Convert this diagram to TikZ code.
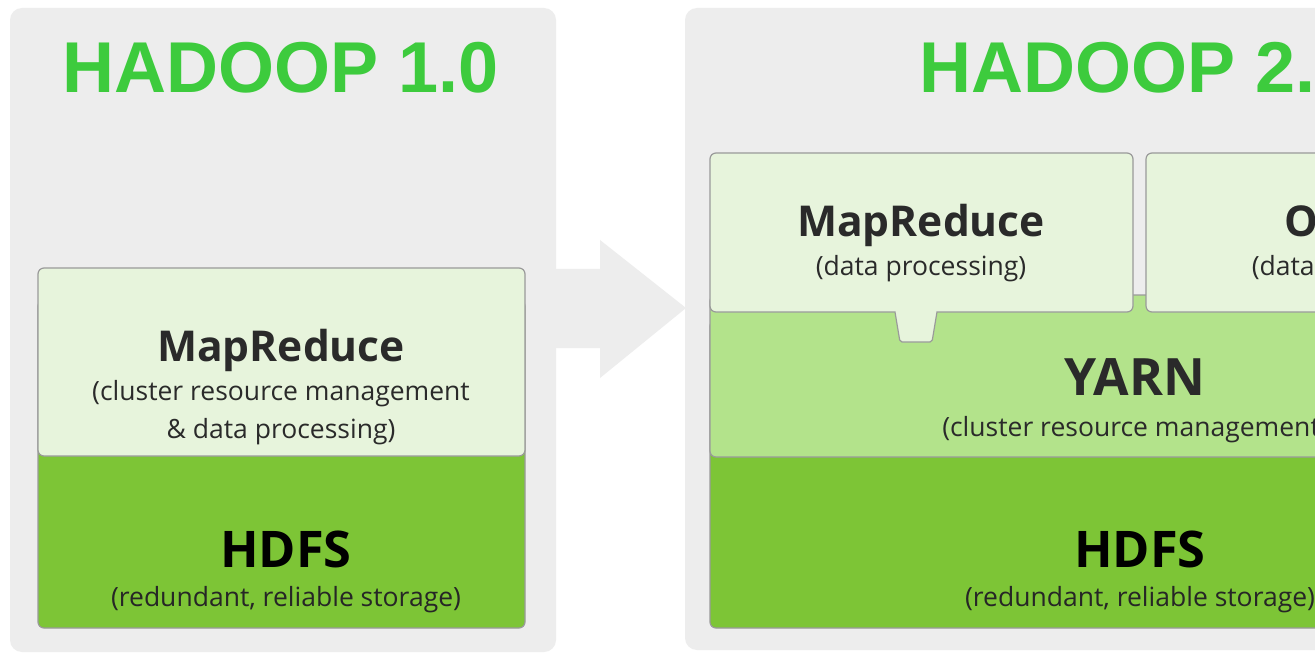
\documentclass[tikz,border=0pt]{standalone}
\usepackage{fontspec}
\setmainfont{Open Sans}
\newfontfamily\titlefont{Liberation Sans}
\definecolor{panelgray}{HTML}{EDEDED}
\definecolor{titlegreen}{HTML}{3DCB3D}
\definecolor{lightbox}{HTML}{E7F4DC}
\definecolor{yarngreen}{HTML}{B3E38B}
\definecolor{hdfsgreen}{HTML}{7DC536}
\definecolor{edgegray}{HTML}{9A9A9A}
\definecolor{darktext}{HTML}{2A2A2A}
\tikzset{
  panel/.style={fill=panelgray, rounded corners=12pt},
  boxline/.style={draw=edgegray, line width=1.2pt},
  title/.style={font=\titlefont\bfseries\fontsize{72}{72}\selectfont, text=titlegreen, inner sep=0pt, anchor=base},
  headtext/.style={font=\bfseries\fontsize{42.5}{42.5}\selectfont, text=darktext, inner sep=0pt, anchor=base},
  bigtext/.style={font=\bfseries\fontsize{50.5}{50.5}\selectfont, text=black, inner sep=0pt, anchor=base},
  bigdark/.style={font=\bfseries\fontsize{51.5}{51.5}\selectfont, text=darktext, inner sep=0pt, anchor=base},
  subtext/.style={font=\fontsize{26.5}{26.5}\selectfont, text=darktext, inner sep=0pt, anchor=base},
}
\begin{document}
\begin{tikzpicture}[x=1pt,y=-1pt]
\useasboundingbox (0,0) rectangle (1315,655);
\clip (0,0) rectangle (1315,655);
\fill[white] (0,0) rectangle (1315,655);
% panels
\fill[panel] (10,8) rectangle (556,652);
\fill[panel] (685,8) rectangle (1600,650);
% arrow
\fill[panelgray] (550,269) -- (600,269) -- (600,240) -- (686,308) -- (600,378) -- (600,348) -- (550,348) -- cycle;
% titles
\node[title] (t1) at (281,93) {HADOOP 1.0};
\node[title] (t2) at (1138,93) {HADOOP 2.0};
% left stack
\filldraw[boxline, fill=hdfsgreen, rounded corners=6pt] (38,300) rectangle (525,628);
\filldraw[boxline, fill=lightbox, rounded corners=6pt] (38,268) rectangle (525,456);
\node[headtext] (mr1) at (281,361) {MapReduce};
\node[subtext] (mr1a) at (281,400) {(cluster resource management};
\node[subtext] (mr1b) at (281,438) {\& data processing)};
\node[bigtext] (hd1) at (286,567) {HDFS};
\node[subtext, text=black!85] (hd1a) at (286,606) {(redundant, reliable storage)};
% right stack
\filldraw[boxline, fill=hdfsgreen, rounded corners=6pt] (710,320) rectangle (1569,628);
\filldraw[boxline, fill=yarngreen, rounded corners=6pt] (710,295) rectangle (1569,457);
\filldraw[boxline, fill=lightbox] (895,312) [rounded corners=6pt] -- (710,312) -- (710,153) -- (1133,153) -- (1133,312) [sharp corners] -- (937,312) [rounded corners=2pt] -- (932,342) -- (900,342) [sharp corners] -- (895,312) -- cycle;
\filldraw[boxline, fill=lightbox, rounded corners=6pt] (1146,153) rectangle (1569,312);
\node[headtext] (mr2) at (921,237) {MapReduce};
\node[subtext] (mr2a) at (921,276) {(data processing)};
\node[headtext] (ot) at (1357,237) {Others};
\node[subtext] (ota) at (1357,276) {(data processing)};
\node[bigdark] (yarn) at (1135,395) {YARN};
\node[subtext] (yarna) at (1135,436) {(cluster resource management)};
\node[bigtext] (hd2) at (1140,567) {HDFS};
\node[subtext, text=black!85] (hd2a) at (1140,606) {(redundant, reliable storage)};
\end{tikzpicture}
\end{document}
